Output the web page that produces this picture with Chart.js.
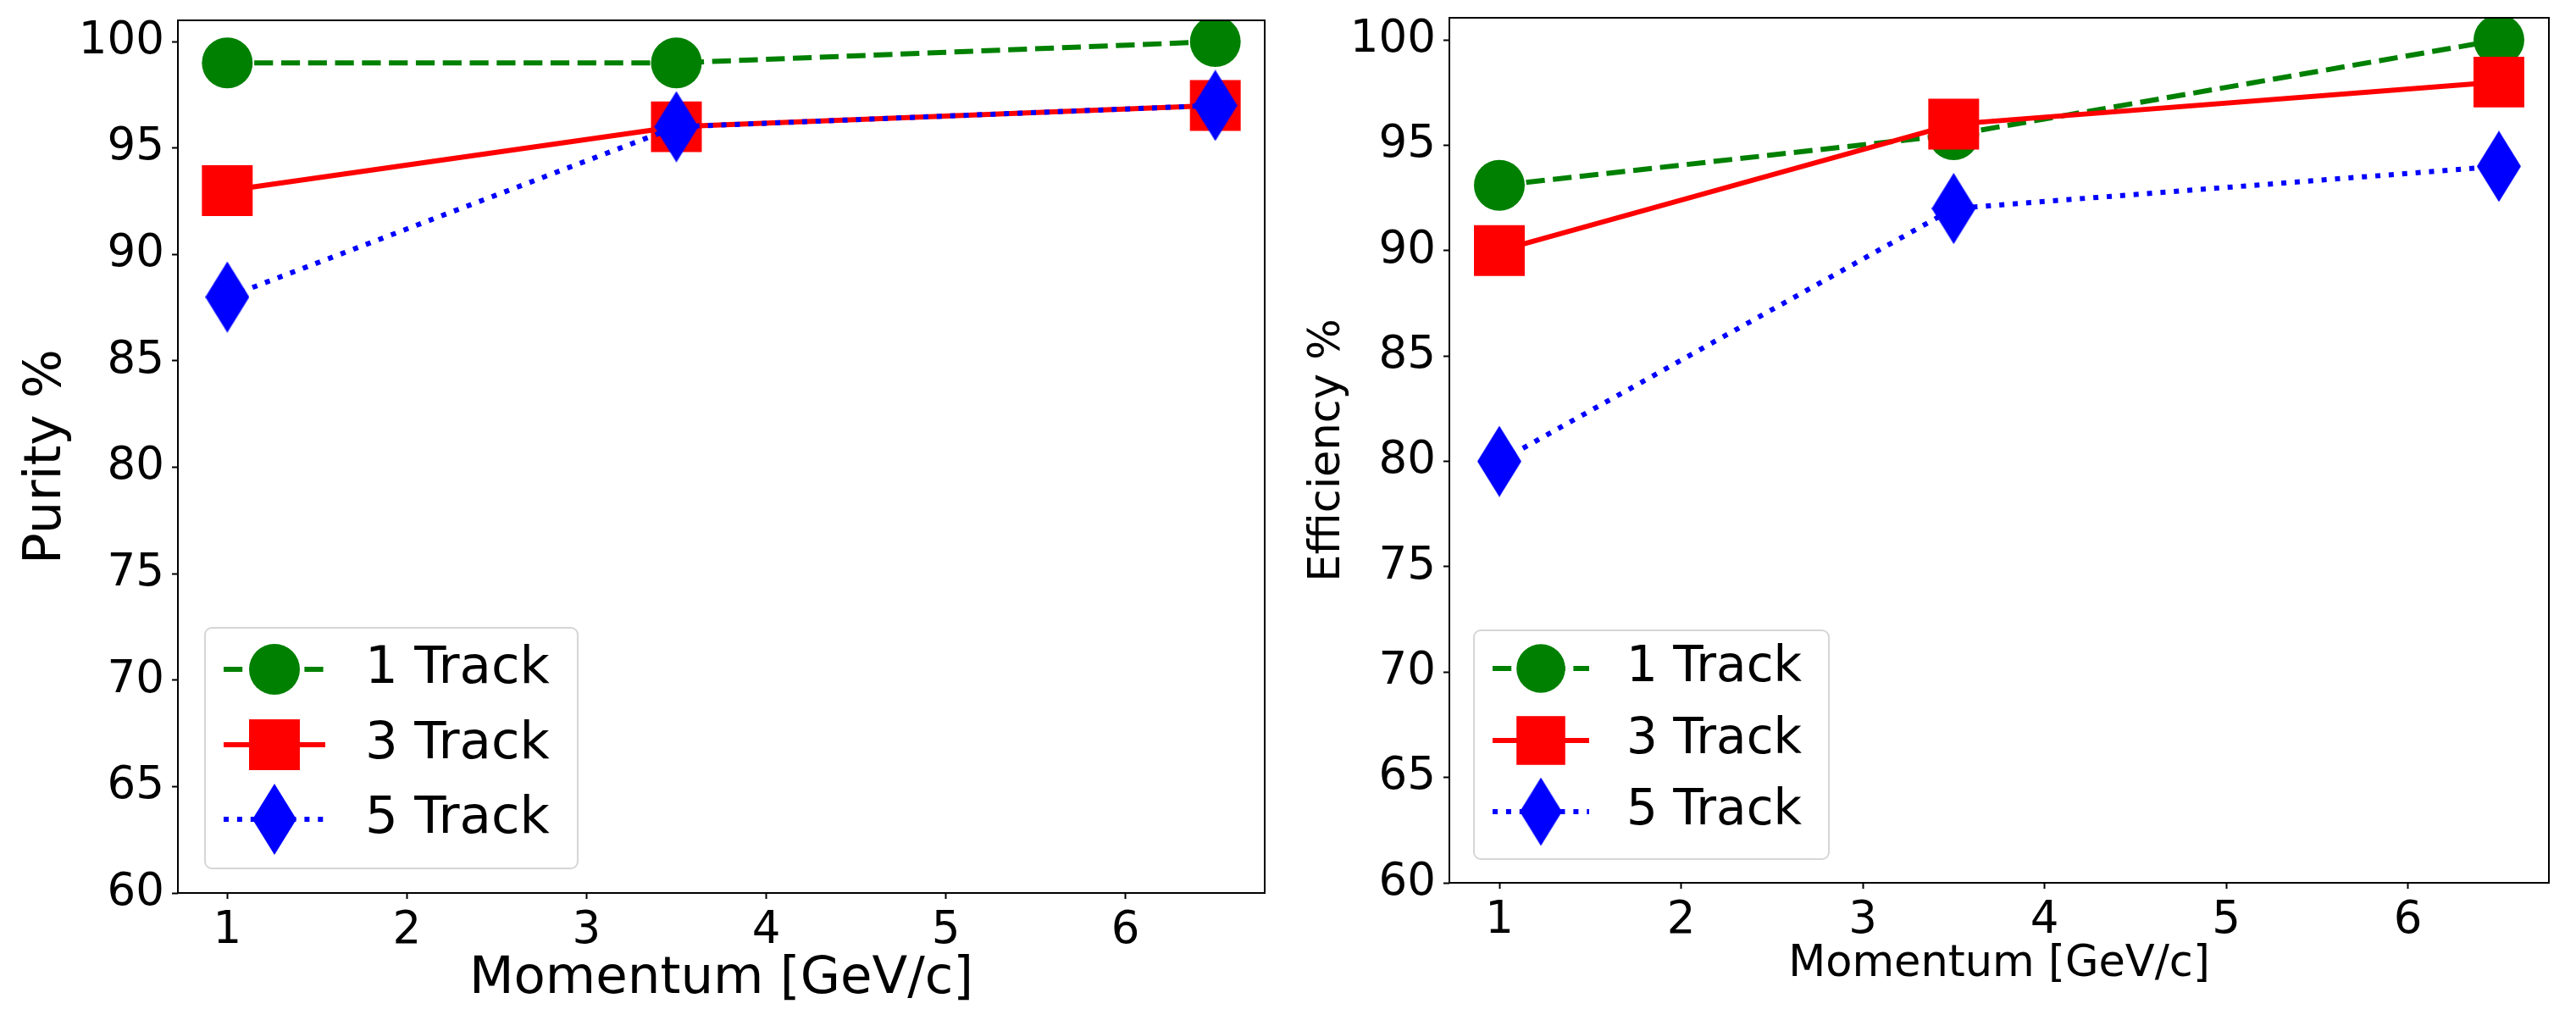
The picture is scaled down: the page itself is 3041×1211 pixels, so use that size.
<!DOCTYPE html>
<html><head><meta charset="utf-8">
<script src="https://cdn.jsdelivr.net/npm/chart.js@4/dist/chart.umd.min.js"></script>
<style>
html,body{margin:0;padding:0;background:#fff;width:3041px;height:1211px;overflow:hidden}
#c1{position:absolute;left:0;top:0}
#c2{position:absolute;left:1520px;top:0}
</style></head><body>
<canvas id="c1" width="1520" height="1211"></canvas>
<canvas id="c2" width="1521" height="1211"></canvas>
<script>
// ---- data ----
const momentum = [1, 3.5, 6.5];
const seriesNames = ['1 Track', '3 Track', '5 Track'];
const purity1 = [99, 99, 100];
const purity3 = [93, 96, 97];
const purity5 = [88, 96, 97];
const eff1 = [93.1, 95.5, 100];
const eff3 = [90, 96, 98];
const eff5 = [80, 92, 94];
const xTicks = [1, 2, 3, 4, 5, 6];
const yTicks = [60, 65, 70, 75, 80, 85, 90, 95, 100];

Chart.defaults.font.family = 'DejaVu Sans';
Chart.defaults.color = '#000';

function diamond(w, h) {
  const c = document.createElement('canvas');
  c.width = w; c.height = h;
  const g = c.getContext('2d');
  g.fillStyle = '#0000ff';
  g.beginPath();
  g.moveTo(w / 2, 0); g.lineTo(w, h / 2); g.lineTo(w / 2, h); g.lineTo(0, h / 2);
  g.closePath(); g.fill();
  return c;
}
const diamondPlot = diamond(52, 84);

function makeSets(a, b, c) {
  const pts = arr => momentum.map((x, i) => ({x: x, y: arr[i]}));
  return [
    {label: seriesNames[0], data: pts(a), borderColor: '#008000', backgroundColor: '#008000',
     borderWidth: 6, borderDash: [22.2, 9.6], pointStyle: 'circle', pointRadius: 30,
     pointBorderWidth: 0, pointBackgroundColor: '#008000', order: 3, clip: 0},
    {label: seriesNames[1], data: pts(b), borderColor: '#ff0000', backgroundColor: '#ff0000',
     borderWidth: 6, pointStyle: 'rect', pointRadius: 42.4,
     pointBorderWidth: 0, pointBackgroundColor: '#ff0000', order: 2, clip: 0},
    {label: seriesNames[2], data: pts(c), borderColor: '#0000ff', backgroundColor: '#0000ff',
     borderWidth: 6, borderDash: [6, 9.9], pointStyle: diamondPlot, pointRadius: 42,
     pointBorderWidth: 0, pointBackgroundColor: '#0000ff', order: 1, clip: 0}
  ];
}

const framePlugin = {
  id: 'frame',
  afterDatasetsDraw(chart) {
    const a = chart.chartArea, ctx = chart.ctx;
    ctx.save();
    ctx.strokeStyle = '#000';
    ctx.lineWidth = 2;
    ctx.strokeRect(a.left, a.top, a.right - a.left, a.bottom - a.top);
    ctx.restore();
  }
};

function drawMarker(ctx, ds, x, y, s) {
  ctx.save();
  ctx.fillStyle = ds.pointBackgroundColor;
  const st = ds.pointStyle;
  if (st === 'circle') {
    ctx.beginPath(); ctx.arc(x, y, ds.pointRadius * s, 0, Math.PI * 2); ctx.fill();
  } else if (st === 'rect') {
    const h = ds.pointRadius * Math.SQRT1_2 * s;
    ctx.fillRect(x - h, y - h, 2 * h, 2 * h);
  } else {
    const w = st.width * s, hh = st.height * s;
    ctx.drawImage(st, x - w / 2, y - hh / 2, w, hh);
  }
  ctx.restore();
}

const legendPlugin = {
  id: 'mplLegend',
  afterDraw(chart, args, o) {
    const ctx = chart.ctx;
    const [x0, y0, x1, y1] = o.box;
    ctx.save();
    ctx.beginPath();
    ctx.roundRect(x0, y0, x1 - x0, y1 - y0, 8);
    ctx.fillStyle = 'rgba(255,255,255,0.8)';
    ctx.fill();
    ctx.strokeStyle = 'rgba(204,204,204,0.8)';
    ctx.lineWidth = 2;
    ctx.stroke();
    chart.data.datasets.forEach((ds, i) => {
      const y = o.rows[i];
      ctx.save();
      ctx.strokeStyle = ds.borderColor;
      ctx.lineWidth = ds.borderWidth;
      ctx.setLineDash(ds.borderDash || []);
      ctx.beginPath(); ctx.moveTo(o.handle[0], y); ctx.lineTo(o.handle[1], y); ctx.stroke();
      ctx.restore();
      drawMarker(ctx, ds, (o.handle[0] + o.handle[1]) / 2, y, o.markerScale);
      ctx.fillStyle = '#000';
      ctx.font = o.fontSize + 'px "DejaVu Sans"';
      ctx.textBaseline = 'middle';
      ctx.textAlign = 'left';
      ctx.fillText(ds.label, o.textX, y);
    });
    ctx.restore();
  }
};

function makeChart(id, sets, cfg) {
  return new Chart(document.getElementById(id), {
    type: 'line',
    data: {datasets: sets},
    plugins: [framePlugin, legendPlugin],
    options: {
      responsive: false,
      devicePixelRatio: 1,
      animation: false,
      events: [],
      layout: {autoPadding: false, padding: cfg.padding},
      plugins: {
        legend: {display: false},
        tooltip: {enabled: false},
        mplLegend: cfg.legend
      },
      scales: {
        x: {
          type: 'linear', min: 0.725, max: 6.775,
          afterBuildTicks: s => { s.ticks = xTicks.map(v => ({value: v})); },
          grid: {display: true, drawOnChartArea: false, drawTicks: true, tickLength: 7, tickWidth: 2, tickColor: '#000'},
          border: {display: false},
          ticks: {font: {size: cfg.tickSize}, color: '#000', padding: cfg.xTickPad, maxRotation: 0, autoSkip: false,
                  callback: v => String(v)},
          title: {display: true, text: 'Momentum [GeV/c]', color: '#000',
                  font: {size: cfg.xTitleSize, lineHeight: 1}, padding: {top: 0, bottom: cfg.xTitlePad}},
          afterFit: s => { s.height = cfg.xHeight; s.paddingLeft = 0; s.paddingRight = 0; s.paddingTop = 0; s.paddingBottom = 0; }
        },
        y: {
          type: 'linear', min: 60, max: cfg.yMax,
          afterBuildTicks: s => { s.ticks = yTicks.map(v => ({value: v})); },
          grid: {display: true, drawOnChartArea: false, drawTicks: true, tickLength: 7, tickWidth: 2, tickColor: '#000'},
          border: {display: false},
          ticks: {font: {size: cfg.tickSize}, color: '#000', padding: 9, autoSkip: false,
                  callback: v => String(v)},
          title: {display: true, text: cfg.yTitle, color: '#000',
                  font: {size: cfg.yTitleSize, lineHeight: 1}, padding: {top: cfg.yTitlePad, bottom: 0}},
          afterFit: s => { s.width = cfg.yWidth; s.paddingTop = 0; s.paddingBottom = 0; s.paddingLeft = 0; s.paddingRight = 0; }
        }
      }
    }
  });
}

makeChart('c1', makeSets(purity1, purity3, purity5), {
  padding: {top: 24, right: 27, left: 0, bottom: 0},
  yMax: 101.0, yTitle: 'Purity %', yTitleSize: 61, yTitlePad: 24.5, yWidth: 210,
  xTitleSize: 61, xTitlePad: 24, xHeight: 157, tickSize: 53, xTickPad: 6,
  legend: {box: [242, 741, 682, 1025], rows: [790, 879, 967], handle: [264, 384],
           textX: 431, fontSize: 61, markerScale: 1}
});

makeChart('c2', makeSets(eff1, eff3, eff5), {
  padding: {top: 21, right: 32, left: 0, bottom: 0},
  yMax: 101.05, yTitle: 'Efficiency %', yTitleSize: 51, yTitlePad: 22, yWidth: 191,
  xTitleSize: 51, xTitlePad: 47, xHeight: 169, tickSize: 53, xTickPad: 6,
  legend: {box: [220, 744, 639, 1014], rows: [789, 874, 958], handle: [242, 356],
           textX: 400, fontSize: 58, markerScale: 0.96}
});
</script>
</body></html>
